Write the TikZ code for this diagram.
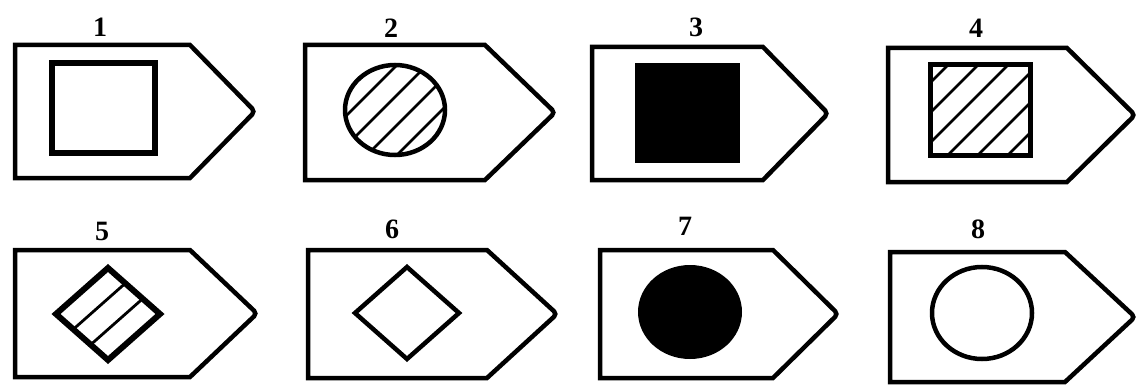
\documentclass[tikz,border=0pt]{standalone}
\usepackage{fontspec}
\setmainfont{Liberation Serif}
\newcommand\arrowshape[5]{%
  \draw[outer] (#1,#2) -- (#5,#2) [rounded corners=4pt] -- (#4,{(#2+#3)/2}) [sharp corners] -- (#5,#3) -- (#1,#3) -- cycle;}
\begin{document}
\begin{tikzpicture}[x=1pt,y=-1pt,
  outer/.style={line width=4.5pt, line join=miter},
  hatch/.style={line width=2.6pt},
  lbl/.style={font=\bfseries\fontsize{28}{28}\selectfont, anchor=base, inner sep=0pt}]
\useasboundingbox (0,0) rectangle (1140,385);
% labels
\node[lbl] (l1) at (100,37) {1};
\node[lbl] (l2) at (391,38) {2};
\node[lbl] (l3) at (696,37) {3};
\node[lbl] (l4) at (976,38) {4};
\node[lbl] (l5) at (102,240) {5};
\node[lbl] (l6) at (392,238) {6};
\node[lbl] (l7) at (685,235) {7};
\node[lbl] (l8) at (978,238) {8};
% outer shapes
\arrowshape{15}{45}{178}{255}{190}
\arrowshape{305}{45}{180}{555}{485}
\arrowshape{592}{47}{180}{828}{763}
\arrowshape{888}{48}{182}{1135}{1067}
\arrowshape{15}{250}{377}{257}{190}
\arrowshape{308}{250}{378}{557}{487}
\arrowshape{600}{250}{378}{838}{773}
\arrowshape{890}{252}{382}{1135}{1065}
% 1: open square
\draw[line width=6pt] (52,63) rectangle (155,153);
% 2: hatched circle
\begin{scope}
  \clip (395,110) ellipse [x radius=50pt, y radius=45pt];
  \foreach \k in {462,492,522,552} \draw[hatch] ({\k-200},200) -- ({\k+100},-100);
\end{scope}
\draw[line width=4.5pt] (395,110) ellipse [x radius=50pt, y radius=45pt];
% 3: filled square
\fill (635,63) rectangle (740,163);
% 4: hatched square
\begin{scope}
  \clip (930,65) rectangle (1030,155);
  \foreach \n in {0,...,5} \draw[hatch] ({1013+30*\n-200},200) -- ({1013+30*\n+100},-100);
\end{scope}
\draw[line width=5pt] (930,65) rectangle (1030,155);
% 5: striped diamond
\draw[line width=2.8pt] (73.3,329.3) -- (125.3,283.3);
\draw[line width=2.8pt] (90.7,344.7) -- (142.7,298.7);
\draw[line width=6pt, line join=miter] (56,314) -- (108,268) -- (160,314) -- (108,360) -- cycle;
% 6: open diamond
\draw[line width=4.5pt, line join=miter] (355,313) -- (407,267) -- (459,313) -- (407,359) -- cycle;
% 7: filled circle
\fill (690,312) ellipse [x radius=52pt, y radius=47pt];
% 8: open circle
\draw[line width=4.5pt] (982,313) ellipse [x radius=50pt, y radius=46pt];
\end{tikzpicture}
\end{document}
